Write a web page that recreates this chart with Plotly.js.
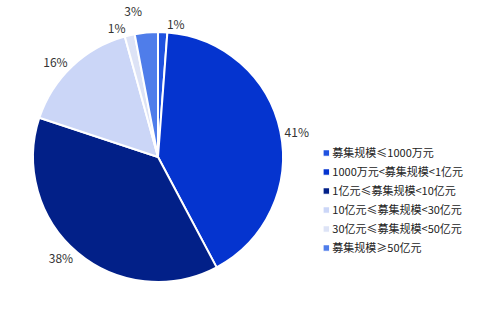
<!DOCTYPE html>
<html><head><meta charset="utf-8">
<script src="https://cdn.plot.ly/plotly-3.0.1.min.js"></script>
<style>
html,body{margin:0;padding:0;background:#fff}
path.textline{stroke-opacity:0 !important}
path.legendpie{transform: translate(34px,0px) scale(0.55) !important}
</style>
</head><body>
<div id="chart" style="width:493px;height:314px"></div>
<script>
const labels = ["募集规模≤1000万元","1000万元<募集规模<1亿元","1亿元≤募集规模<10亿元","10亿元≤募集规模<30亿元","30亿元≤募集规模<50亿元","募集规模≥50亿元"];
const values = [1.2, 41.2, 38.0, 15.7, 1.3, 3.0];
const colors = ["#1f52e0","#0534cf","#022088","#cbd6f7","#dde3f6","#4f7dea"];
Plotly.newPlot("chart", [{
  type: "pie",
  labels: labels,
  values: values,
  sort: false,
  direction: "clockwise",
  rotation: 0,
  marker: {colors: colors, line: {color: "#ffffff", width: 2}},
  textinfo: "percent",
  texttemplate: "%{percent:.0%}",
  textposition: "outside",
  outsidetextfont: {family: "Noto Sans CJK SC", size: 12, color: "#333333"},
  domain: {x: [0.067, 0.574], y: [0.102, 0.898]},
  hoverinfo: "none"
}], {
  width: 493, height: 314,
  margin: {l: 0, r: 0, t: 0, b: 0},
  paper_bgcolor: "#ffffff",
  showlegend: true,
  legend: {x: 0.593, y: 0.559, xanchor: "left", yanchor: "top",
    font: {family: "Noto Sans CJK SC", size: 11, color: "#222222"}, itemwidth: 30, tracegroupgap: 0}
}, {displayModeBar: false, staticPlot: true});
</script>
</body></html>
